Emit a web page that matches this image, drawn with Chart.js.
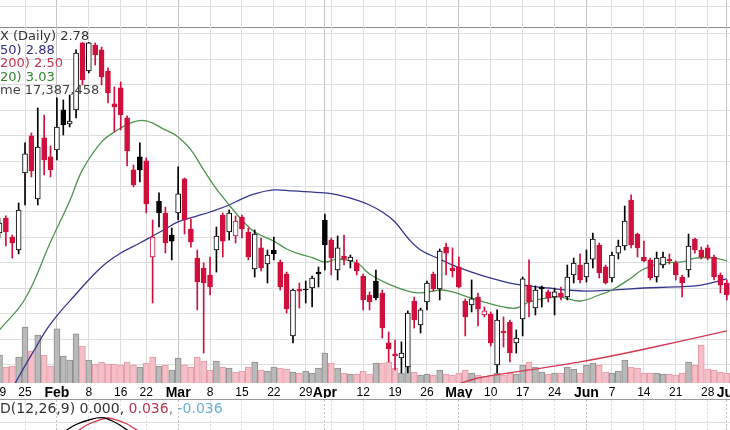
<!DOCTYPE html>
<html>
<head>
<meta charset="utf-8">
<script src="https://cdn.jsdelivr.net/npm/chart.js@4.4.0/dist/chart.umd.min.js"></script>
<style>
  html, body { margin: 0; padding: 0; background: #fff; }
  #wrap { position: relative; width: 730px; height: 430px; overflow: hidden; background: #fff; }
  #wrap canvas { position: absolute; left: 0; }
  #topPane { top: 0; }
  #pricePane { top: 27px; }
  #macdPane { top: 398px; }
</style>
</head>
<body>
<div id="wrap">
  <canvas id="topPane" width="730" height="28"></canvas>
  <canvas id="pricePane" width="730" height="371"></canvas>
  <canvas id="macdPane" width="730" height="32"></canvas>
</div>
<script>
// day index 0 = Jan 19 2021 ... 114 = Jul 1 2021 (trading days)
const tickDays = [0, 4, 9, 14, 19, 23, 28, 33, 38, 43, 48, 51, 52, 57, 62, 67, 72, 77, 82, 87, 92, 96, 101, 106, 111, 114];
const tickLabels = ['19', '25', 'Feb', '8', '16', '22', 'Mar', '8', '15', '22', '29', 'Apr', '', '12', '19', '26', 'May', '10', '17', '24', 'Jun', '7', '14', '21', '28', 'Jul'];

const open = [
  3.235, 3.353, 3.204, 3.102, 3.707, 3.997, 3.503, 3.981, 3.832, 3.887,
  4.201, 4.091, 4.201, 4.726, 4.506, 4.710, 4.671, 4.506, 4.248, 4.373,
  4.138, 3.730, 3.832, 3.801, 3.047, 3.486, 3.392, 3.219, 3.392, 3.660,
  3.267, 3.039, 2.961, 2.906, 3.102, 3.376, 3.243, 3.212, 3.361, 3.243,
  2.953, 3.118, 2.992, 3.102, 3.008, 2.914, 2.428, 2.796, 2.796, 2.804,
  2.929, 3.337, 3.180, 2.945, 3.055, 3.016, 3.000, 2.898, 2.749, 2.859,
  2.765, 2.373, 2.287, 2.255, 2.185, 2.702, 2.514, 2.694, 2.914, 2.796,
  3.125, 2.961, 2.969, 2.702, 2.671, 2.733, 2.592, 2.600, 2.200, 2.467,
  2.537, 2.373, 2.561, 2.827, 2.647, 2.812, 2.773, 2.733, 2.765, 2.733,
  2.906, 2.984, 2.890, 3.031, 3.141, 2.969, 2.882, 3.078, 3.133, 3.494,
  3.227, 3.047, 3.024, 2.890, 2.984, 3.031, 3.000, 2.890, 2.945, 3.188,
  3.102, 3.118, 3.047, 2.906, 2.843
];
const high = [
  3.353, 3.369, 3.219, 3.470, 3.942, 4.020, 4.216, 4.161, 3.918, 4.295,
  4.279, 4.318, 4.671, 4.730, 4.730, 4.726, 4.694, 4.530, 4.381, 4.420,
  4.154, 3.769, 3.942, 3.824, 3.337, 3.550, 3.439, 3.274, 3.754, 3.667,
  3.345, 3.102, 3.000, 3.047, 3.282, 3.392, 3.416, 3.369, 3.376, 3.274,
  3.259, 3.196, 3.102, 3.204, 3.024, 2.929, 2.796, 2.843, 2.859, 2.898,
  2.969, 3.384, 3.196, 3.212, 3.219, 3.063, 3.024, 2.914, 2.773, 2.945,
  2.788, 2.459, 2.396, 2.381, 2.624, 2.733, 2.647, 2.859, 2.929, 3.110,
  3.157, 3.118, 3.047, 2.718, 2.867, 2.765, 2.655, 2.616, 2.632, 2.577,
  2.553, 2.475, 2.890, 3.024, 2.820, 2.820, 2.788, 2.804, 2.812, 2.984,
  3.039, 3.071, 3.102, 3.235, 3.157, 2.984, 3.086, 3.180, 3.447, 3.534,
  3.235, 3.172, 3.039, 3.086, 3.086, 3.071, 3.016, 2.906, 3.227, 3.196,
  3.125, 3.141, 3.063, 2.922, 2.867
];
const low = [
  3.196, 3.133, 3.039, 3.071, 3.455, 3.675, 3.455, 3.691, 3.675, 3.809,
  4.004, 4.067, 4.138, 4.396, 4.491, 4.553, 4.396, 4.255, 4.028, 4.044,
  3.762, 3.597, 3.636, 3.392, 2.686, 3.282, 3.078, 3.024, 3.337, 3.227,
  3.125, 2.632, 2.294, 2.749, 2.929, 3.047, 3.180, 3.157, 3.196, 3.024,
  2.890, 2.937, 2.843, 3.024, 2.788, 2.608, 2.373, 2.647, 2.686, 2.655,
  2.812, 2.945, 2.906, 2.867, 2.984, 2.961, 2.906, 2.632, 2.632, 2.710,
  2.412, 2.224, 2.161, 2.138, 2.138, 2.490, 2.451, 2.632, 2.780, 2.710,
  2.906, 2.890, 2.804, 2.428, 2.616, 2.506, 2.577, 2.349, 2.138, 2.341,
  2.224, 2.294, 2.428, 2.577, 2.592, 2.655, 2.694, 2.592, 2.710, 2.710,
  2.843, 2.843, 2.851, 2.961, 2.882, 2.835, 2.851, 3.031, 3.102, 3.118,
  3.047, 3.008, 2.867, 2.851, 2.961, 2.992, 2.867, 2.733, 2.890, 3.078,
  3.031, 3.024, 2.867, 2.765, 2.710
];
const close = [
  3.314, 3.243, 3.157, 3.416, 3.856, 3.722, 3.910, 3.809, 3.730, 4.067,
  4.083, 4.114, 4.647, 4.436, 4.726, 4.632, 4.459, 4.334, 4.224, 4.161,
  3.879, 3.612, 3.730, 3.463, 3.204, 3.392, 3.157, 3.172, 3.542, 3.337,
  3.165, 2.851, 2.843, 2.812, 3.212, 3.172, 3.392, 3.329, 3.267, 3.047,
  3.227, 2.961, 3.063, 3.071, 2.812, 2.639, 2.788, 2.780, 2.788, 2.882,
  2.914, 3.141, 3.039, 3.118, 3.031, 3.047, 2.937, 2.710, 2.694, 2.726,
  2.490, 2.326, 2.271, 2.294, 2.608, 2.553, 2.632, 2.843, 2.796, 3.094,
  3.078, 2.937, 2.812, 2.577, 2.718, 2.639, 2.624, 2.373, 2.553, 2.451,
  2.294, 2.412, 2.875, 2.694, 2.788, 2.796, 2.726, 2.773, 2.733, 2.890,
  3.000, 2.867, 3.000, 3.188, 2.922, 2.843, 3.063, 3.133, 3.329, 3.141,
  3.118, 3.016, 2.882, 3.039, 3.047, 3.016, 2.906, 2.843, 3.133, 3.102,
  3.047, 3.039, 2.890, 2.827, 2.749
];
// volume in millions of shares
const volume = [
  48.7, 27.8, 29.6, 45.2, 97.4, 55.7, 83.5, 48.7, 29.6, 94.0,
  47.0, 40.0, 85.3, 64.4, 40.0, 33.0, 36.5, 33.0, 33.0, 31.3,
  36.5, 31.3, 27.8, 34.8, 45.2, 29.6, 31.3, 22.6, 43.5, 31.3,
  27.8, 45.2, 38.3, 22.6, 38.3, 27.8, 26.1, 19.1, 20.9, 27.8,
  36.5, 22.6, 20.9, 27.8, 26.1, 24.4, 19.1, 17.4, 20.9, 17.4,
  26.1, 52.2, 34.8, 26.1, 17.4, 15.7, 15.7, 20.9, 15.7, 34.8,
  34.8, 36.5, 26.1, 17.4, 29.6, 19.1, 13.9, 15.7, 13.9, 22.6,
  15.7, 13.9, 17.4, 22.6, 17.4, 13.9, 12.2, 13.9, 17.4, 13.9,
  17.4, 15.7, 31.3, 36.5, 27.8, 19.1, 15.7, 17.4, 17.4, 27.8,
  24.4, 17.4, 31.3, 34.8, 31.3, 19.1, 17.4, 20.9, 40.0, 27.8,
  26.1, 17.4, 17.4, 17.4, 15.7, 15.7, 13.9, 17.4, 36.5, 31.3,
  66.1, 24.4, 22.6, 19.1, 17.4
];

// moving averages at sample days
const sma20Days = [0, 4, 8, 11, 13, 16, 18, 21, 23, 26, 28, 30, 32, 34, 36, 38, 40, 43, 45, 47, 49, 51, 53, 56, 58, 61, 64, 66, 69, 71, 73, 76, 79, 81, 83, 86, 88, 91, 94, 96, 99, 101, 104, 107, 109, 112, 114];
const sma20 = [2.475, 2.718, 3.165, 3.486, 3.730, 3.950, 4.028, 4.106, 4.114, 4.044, 3.989, 3.887, 3.730, 3.581, 3.455, 3.337, 3.243, 3.172, 3.110, 3.071, 3.043, 3.008, 3.031, 3.000, 2.914, 2.835, 2.780, 2.765, 2.788, 2.773, 2.741, 2.694, 2.655, 2.647, 2.694, 2.726, 2.733, 2.702, 2.749, 2.788, 2.882, 2.953, 3.000, 3.008, 3.039, 3.039, 3.016];
const sma50Days = [0, 3, 5, 8, 12, 16, 19, 22, 24, 26, 28, 31, 33, 36, 38, 40, 43, 46, 51, 53, 56, 58, 60, 62, 64, 66, 69, 71, 74, 77, 80, 83, 86, 89, 92, 96, 101, 106, 110, 114];
const sma50 = [1.832, 2.106, 2.279, 2.522, 2.757, 2.969, 3.078, 3.157, 3.212, 3.267, 3.322, 3.369, 3.400, 3.455, 3.503, 3.542, 3.573, 3.565, 3.550, 3.534, 3.494, 3.455, 3.400, 3.322, 3.196, 3.102, 3.031, 2.984, 2.929, 2.882, 2.843, 2.820, 2.804, 2.788, 2.780, 2.788, 2.804, 2.812, 2.827, 2.875];
const sma200Days = [71, 75, 83, 91, 99, 107, 114];
const sma200 = [2.036, 2.098, 2.161, 2.224, 2.302, 2.389, 2.467];

const macdDays = [4, 8, 10, 12, 14, 16, 18, 20, 22, 26];
const macdLine = [0.05, 0.15, 0.19, 0.235, 0.262, 0.276, 0.25, 0.202, 0.155, 0.08];
const signalDays = [4, 8, 10, 12, 14, 16, 17, 18, 20, 21, 23, 27];
const signalLine = [0.0, 0.09, 0.142, 0.19, 0.238, 0.266, 0.274, 0.266, 0.238, 0.214, 0.175, 0.09];

const priceGrid = [2.2, 2.4, 2.6, 2.8, 3.0, 3.2, 3.4, 3.6, 3.8, 4.0, 4.2, 4.4, 4.6, 4.8];

const legendLines = ['X (Daily) 2.78', '50) 2.88', '200) 2.50', '20) 3.03', 'me 17,387,458'];
const legendColors = ['#333333', '#2e2e8c', '#c8344c', '#2f862f', '#444444'];
const macdLegend = [['D(12,26,9) 0.000', '#333333'], [', ', '#333333'], ['0.036', '#b8364f'], [', ', '#888888'], ['-0.036', '#6aaed8']];

const X_MIN = 0.078, X_MAX = 114.5;
const RED = '#d10f3c';

const days = close.map((c, i) => i);
const upDay = close.map((c, i) => c >= (i ? close[i - 1] : open[i]));
const candleColor = upDay.map(u => u ? '#000000' : RED);
const bodyFill = close.map((c, i) => c > open[i] ? '#ffffff' : candleColor[i]);
const volFill = upDay.map(u => u ? '#b9b9b9' : '#f5bfc7');
const volEdge = upDay.map(u => u ? '#8f8f8f' : '#e59aa6');

function isMonth(i) {
    return /[A-Za-z]/.test(tickLabels[i] || '');
}

function pts(xs, ys) {
    return xs.map((d, k) => ({ x: d, y: ys[k] }));
}

function xAxis(extra) {
    return Object.assign({
        type: 'linear',
        min: X_MIN,
        max: X_MAX,
        offset: false,
        afterBuildTicks: s => { s.ticks = tickDays.map(v => ({ value: v })); },
        grid: {
            offset: false,
            drawTicks: false,
            color: ctx => isMonth(ctx.index) ? '#c4c4c4' : '#dedede'
        },
        border: { display: false },
        ticks: { display: false },
        afterFit: s => { s.height = 1; s.paddingLeft = 0; s.paddingRight = 0; }
    }, extra);
}

function hiddenY(min, max, gridValues) {
    return {
        type: 'linear',
        min: min,
        max: max,
        afterBuildTicks: s => { s.ticks = gridValues.map(v => ({ value: v })); },
        grid: { color: '#dedede', drawTicks: false },
        border: { display: false },
        ticks: { display: false },
        afterFit: s => { s.width = 0; s.paddingTop = 0; s.paddingBottom = 0; }
    };
}

const baseOptions = {
    responsive: false,
    animation: false,
    events: [],
    layout: { padding: 0 },
    plugins: { legend: { display: false }, tooltip: { enabled: false } }
};

// strip of the panel above (only its grid is visible)
new Chart(document.getElementById('topPane'), {
    type: 'line',
    data: { datasets: [] },
    options: Object.assign({}, baseOptions, {
        scales: {
            x: xAxis({ border: { display: true, color: '#8c8c8c', width: 1 } }),
            y: hiddenY(0, 1, [0.75])
        }
    })
});

const priceLegend = {
    id: 'priceLegend',
    afterDatasetsDraw(chart) {
        const ctx = chart.ctx;
        ctx.save();
        ctx.font = '13px "DejaVu Sans"';
        ctx.textBaseline = 'middle';
        legendLines.forEach((t, i) => {
            ctx.fillStyle = legendColors[i];
            ctx.fillText(t, 0, 10 + i * 13.5);
        });
        ctx.restore();
    }
};

new Chart(document.getElementById('pricePane'), {
    type: 'bar',
    data: {
        datasets: [
            {
                type: 'bar',
                data: days.map(i => ({ x: i, y: [open[i], close[i]] })),
                backgroundColor: bodyFill,
                borderColor: candleColor,
                borderWidth: 1,
                borderSkipped: false,
                barThickness: 5,
                grouped: false,
                order: 0
            },
            {
                type: 'bar',
                data: days.map(i => ({ x: i, y: [low[i], high[i]] })),
                backgroundColor: candleColor,
                barThickness: 1,
                grouped: false,
                order: 1
            },
            { type: 'line', data: pts(sma20Days, sma20), borderColor: '#4f944f', borderWidth: 1.3, pointRadius: 0, tension: 0.4, order: 2 },
            { type: 'line', data: pts(sma50Days, sma50), borderColor: '#36368f', borderWidth: 1.3, pointRadius: 0, tension: 0.4, order: 2 },
            { type: 'line', data: pts(sma200Days, sma200), borderColor: '#d23a52', borderWidth: 1.3, pointRadius: 0, tension: 0.2, order: 2 },
            {
                type: 'bar',
                yAxisID: 'yv',
                data: days.map(i => ({ x: i, y: volume[i] })),
                backgroundColor: volFill,
                borderColor: volEdge,
                borderWidth: 1,
                barThickness: 6,
                grouped: false,
                order: 3
            }
        ]
    },
    options: Object.assign({}, baseOptions, {
        scales: {
            x: xAxis({
                ticks: {
                    display: true,
                    autoSkip: false,
                    maxRotation: 0,
                    padding: 2,
                    color: '#000',
                    callback: (v, i) => tickLabels[i],
                    font: ctx => isMonth(ctx.index)
                        ? { family: 'Liberation Sans', size: 14, weight: 'bold' }
                        : { family: 'Liberation Sans', size: 12 }
                },
                afterFit: s => { s.height = 15; s.paddingLeft = 0; s.paddingRight = 0; }
            }),
            y: hiddenY(2.0588, 4.851, priceGrid),
            yv: { type: 'linear', display: false, min: 0, max: 619 }
        }
    }),
    plugins: [priceLegend]
});

const macdText = {
    id: 'macdText',
    afterDatasetsDraw(chart) {
        const ctx = chart.ctx;
        ctx.save();
        ctx.font = '14px "DejaVu Sans"';
        ctx.textBaseline = 'middle';
        let x = 0;
        macdLegend.forEach(([t, c]) => {
            ctx.fillStyle = c;
            ctx.fillText(t, x, 11);
            x += ctx.measureText(t).width;
        });
        ctx.restore();
    }
};

new Chart(document.getElementById('macdPane'), {
    type: 'line',
    data: {
        datasets: [
            { data: pts(macdDays, macdLine), borderColor: '#000000', borderWidth: 1.3, pointRadius: 0, tension: 0.4 },
            { data: pts(signalDays, signalLine), borderColor: '#d6334d', borderWidth: 1.3, pointRadius: 0, tension: 0.4 }
        ]
    },
    options: Object.assign({}, baseOptions, {
        scales: {
            x: xAxis({ position: 'top', border: { display: true, color: '#9a9a9a', width: 1, dash: [2, 2] } }),
            y: hiddenY(0.202, 0.388, [0.25])
        }
    }),
    plugins: [macdText]
});
</script>
</body>
</html>
